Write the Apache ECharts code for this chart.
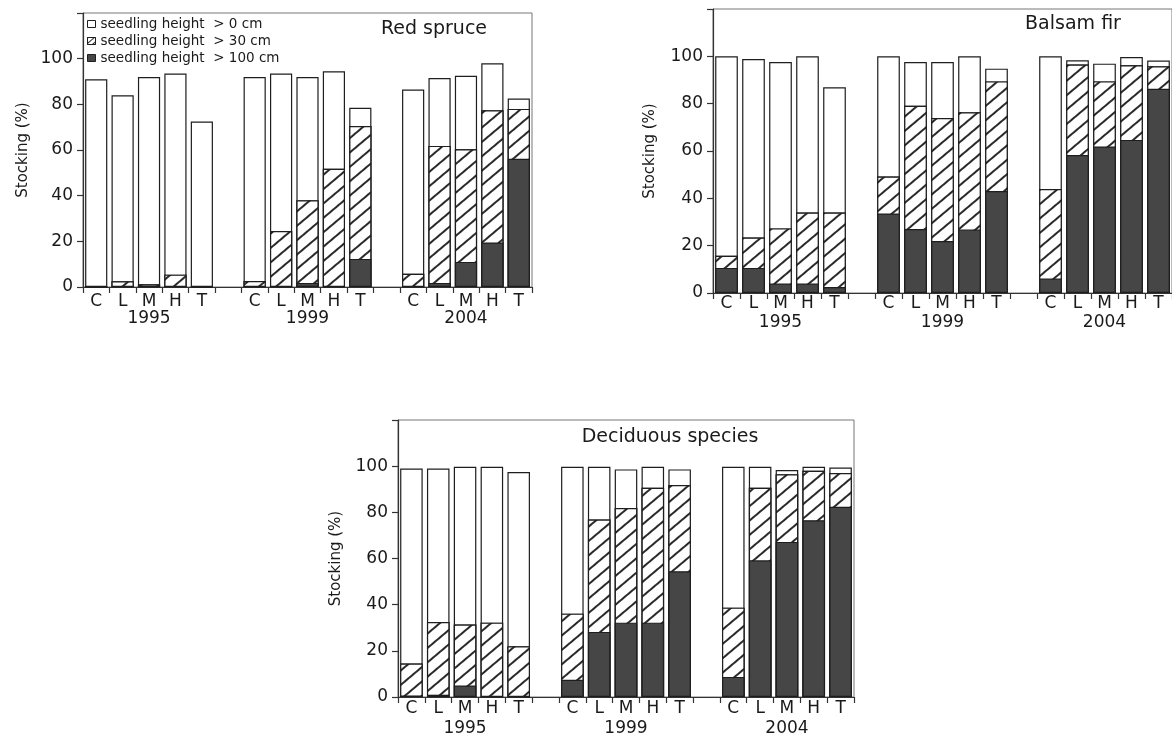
<!DOCTYPE html>
<html><head><meta charset="utf-8">
<script src="https://cdn.jsdelivr.net/npm/echarts@6/dist/echarts.min.js"></script>
<style>html,body{margin:0;padding:0;background:#fff}#c{width:1172px;height:741px}</style>
</head><body><div id="c"></div>
<script>
// ---------- data ----------
const treatments = ['C', 'L', 'M', 'H', 'T'];
const years = ['1995', '1999', '2004'];
const seriesNames = ['seedling height  > 0 cm', 'seedling height  > 30 cm', 'seedling height  > 100 cm'];
const panelTitles = ['Red spruce', 'Balsam fir', 'Deciduous species'];
const yTickValues = [0, 20, 40, 60, 80, 100];

// order: 1995 C L M H T, 1999 C L M H T, 2004 C L M H T  (stocking %, cumulative by height class)
const spruceGt0   = [91, 84, 92, 93.5, 72.5,  92, 93.5, 92, 94.5, 78.5,  86.5, 91.5, 92.5, 98, 82.5];
const spruceGt30  = [0, 2.5, 1.2, 5.4, 0,  2.6, 24.5, 38, 51.8, 70.5,  5.8, 61.8, 60.3, 77.4, 78];
const spruceGt100 = [0, 0, 0, 0, 0,  0, 0, 1.8, 0, 12.3,  0, 1.8, 11, 19.5, 56.2];

const firGt0   = [100, 98.9, 97.6, 100, 86.9,  100, 97.6, 97.6, 100, 94.8,  100, 98.3, 96.9, 99.7, 98.2];
const firGt30  = [15.7, 23.4, 27.3, 34, 34,  49.2, 79.1, 73.9, 76.4, 89.4,  43.9, 96.5, 89.4, 96.2, 95.8];
const firGt100 = [10.6, 10.6, 4, 4, 2.5,  33.6, 27, 22, 26.8, 43.1,  6.1, 58.3, 61.9, 64.7, 86.3];

const decidGt0   = [99, 99, 99.7, 99.7, 97.5,  99.7, 99.7, 98.6, 99.7, 98.6,  99.7, 99.7, 98.3, 99.7, 99.4];
const decidGt30  = [14.5, 32.5, 31.4, 32.2, 22,  36.1, 76.9, 81.9, 90.6, 91.8,  38.7, 90.6, 96.5, 98, 97];
const decidGt100 = [0.6, 1, 5, 0, 0,  7.5, 28.2, 32.2, 32.2, 54.5,  8.7, 59.2, 67.2, 76.6, 82.4];

const panelData = [
  [spruceGt0, spruceGt30, spruceGt100],
  [firGt0, firGt30, firGt100],
  [decidGt0, decidGt30, decidGt100]
];

// ---------- layout (px) ----------
const FONT = 'DejaVu Sans';
const grids = [
  {left: 83, top: 13, width: 449, height: 274},
  {left: 713, top: 9, width: 461, height: 284},
  {left: 398, top: 420, width: 456, height: 277}
];
const catMargin = [6, 2, 3];
const yearMargin = [23, 21, 23];
const nameGaps = [52, 55, 54];
const titlePos = [[434, 29], [1073, 24], [670, 437]];

// categories with an empty slot between years
const cats = [];
years.forEach((y, yi) => {
  treatments.forEach(t => cats.push(t + '|' + y));
  if (yi < years.length - 1) cats.push('gap' + yi);
});
function expand(vals) {
  const out = []; let k = 0;
  cats.forEach(c => { if (c.startsWith('gap')) out.push(null); else out.push(vals[k++]); });
  return out;
}

const hatchDecal = {
  symbol: 'rect', symbolSize: 1,
  dashArrayX: [1, 0], dashArrayY: [1.2, 9],
  rotation: -0.7, color: '#2a2a2a', backgroundColor: '#ffffff'
};
const legendDecal = {
  symbol: 'rect', symbolSize: 1,
  dashArrayX: [1, 0], dashArrayY: [1, 3],
  rotation: -0.7, color: '#2a2a2a', backgroundColor: '#ffffff'
};
const styles = [
  {color: '#ffffff', borderColor: '#1e1e1e', borderWidth: 1.2},
  {color: '#ffffff', borderColor: '#1e1e1e', borderWidth: 1.2, decal: hatchDecal},
  {color: '#464646', borderColor: '#1e1e1e', borderWidth: 1.2}
];

const textCol = '#1a1a1a';
const xAxes = [], yAxes = [], series = [], graphics = [];
grids.forEach((g, p) => {
  xAxes.push({
    gridIndex: p, type: 'category', data: cats, position: 'bottom',
    axisLine: {show: true, lineStyle: {color: '#333', width: 1.2}},
    axisTick: {show: true, length: 6, interval: 0, alignWithLabel: false, lineStyle: {color: '#333', width: 1.2}},
    axisLabel: {interval: 0, margin: catMargin[p], fontSize: 17, color: textCol, fontFamily: FONT,
      formatter: v => v.startsWith('gap') ? '' : v.split('|')[0]},
    splitLine: {show: false}
  });
  xAxes.push({
    gridIndex: p, type: 'category', data: cats, position: 'bottom',
    axisLine: {show: false}, axisTick: {show: false},
    axisLabel: {interval: 0, margin: yearMargin[p], fontSize: 17, color: textCol, fontFamily: FONT,
      formatter: v => { if (v.startsWith('gap')) return ''; const s = v.split('|'); return s[0] === 'M' ? s[1] : ''; }},
    splitLine: {show: false}
  });
  yAxes.push({
    gridIndex: p, type: 'value', min: 0, max: 120, interval: 20,
    axisLine: {show: true, lineStyle: {color: '#333', width: 1.2}},
    axisTick: {show: true, length: 6, lineStyle: {color: '#333', width: 1.2}},
    axisLabel: {margin: 10, fontSize: 17, color: textCol, fontFamily: FONT,
      formatter: v => yTickValues.indexOf(v) >= 0 ? String(v) : ''},
    splitLine: {show: false},
    name: 'Stocking (%)', nameLocation: 'middle', nameGap: nameGaps[p],
    nameTextStyle: {fontSize: 15, color: textCol, fontFamily: FONT}
  });
  panelData[p].forEach((vals, k) => {
    series.push({
      type: 'bar', name: seriesNames[k], xAxisIndex: p * 2, yAxisIndex: p,
      data: expand(vals), barWidth: '84%', barGap: '-100%', z: 2 + k,
      itemStyle: styles[k], emphasis: {disabled: true}, silent: true
    });
  });
  graphics.push({
    type: 'text', x: titlePos[p][0], y: titlePos[p][1], z: 10,
    style: {text: panelTitles[p], fontSize: 19, fontFamily: FONT, fill: textCol, align: 'center', verticalAlign: 'middle'}
  });
});

const chart = echarts.init(document.getElementById('c'), null, {renderer: 'canvas'});
chart.setOption({
  animation: false,
  backgroundColor: '#ffffff',
  grid: grids.map(g => Object.assign({show: true, borderColor: '#777', borderWidth: 1, backgroundColor: 'transparent', containLabel: false}, g)),
  xAxis: xAxes,
  yAxis: yAxes,
  legend: {
    orient: 'vertical', left: 87, top: 17, padding: 0,
    itemWidth: 8, itemHeight: 7, itemGap: 3, selectedMode: false,
    icon: 'rect',
    data: [
      {name: seriesNames[0], itemStyle: {color: '#ffffff', borderColor: '#1e1e1e', borderWidth: 1}},
      {name: seriesNames[1], itemStyle: {color: '#ffffff', borderColor: '#1e1e1e', borderWidth: 1, decal: legendDecal}},
      {name: seriesNames[2], itemStyle: {color: '#464646', borderColor: '#1e1e1e', borderWidth: 1}}
    ],
    textStyle: {fontSize: 13.5, lineHeight: 14, color: textCol, fontFamily: FONT}
  },
  series: series,
  graphic: graphics
});
</script>
</body></html>
